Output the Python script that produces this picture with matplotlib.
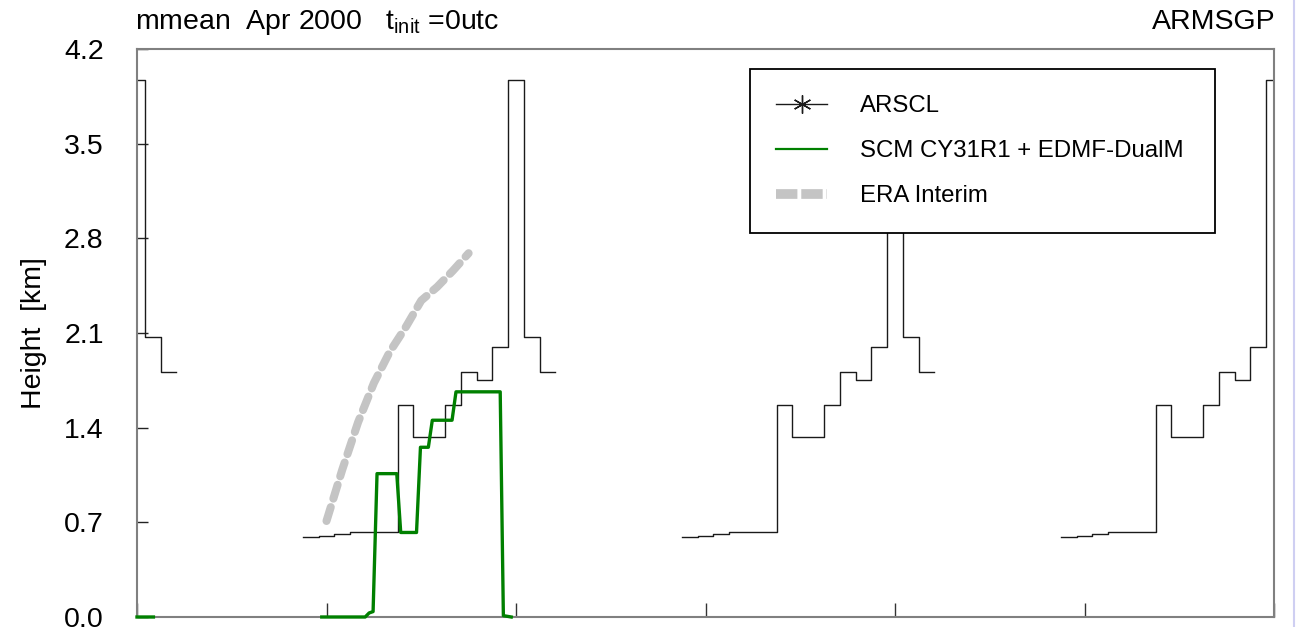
import numpy as np
import matplotlib
matplotlib.use("Agg")
import matplotlib.pyplot as plt
from matplotlib.lines import Line2D

plt.rcParams['font.family'] = ['Liberation Sans', 'DejaVu Sans']
plt.rcParams['mathtext.default'] = 'regular'

# ARSCL diurnal composite, hourly (hour of day -> cloud top height km); hours 3-10 missing
arscl_hours = [0, 1, 2, 11, 12, 13, 14, 15, 16, 17, 18, 19, 20, 21, 22, 23]
arscl_km = [3.97, 2.07, 1.81, 0.59, 0.60, 0.615, 0.625, 0.625, 0.625,
            1.57, 1.33, 1.33, 1.565, 1.815, 1.75, 2.0]
n_days = 3

# SCM CY31R1 + EDMF-DualM (time in hours, NaN = gap)
scm_t = [0.0, 1.04, 6.0, 11.7, 14.45, 14.7, 14.95, 15.2, 16.45, 16.7, 17.7, 17.95,
         18.45, 18.7, 19.95, 20.2, 23.0, 23.2, 23.7]
scm_km = [0.0, 0.0, np.nan, 0.0, 0.0, 0.03, 0.04, 1.06, 1.06, 0.625, 0.625, 1.255,
          1.255, 1.455, 1.455, 1.665, 1.665, 0.01, 0.0]

# ERA Interim
era_t = [12, 13, 14, 15, 16, 17, 18, 19, 20, 21]
era_km = [0.71, 1.09, 1.44, 1.73, 1.96, 2.14, 2.34, 2.44, 2.56, 2.69]

yticks = [0.0, 0.7, 1.4, 2.1, 2.8, 3.5, 4.2]


def arscl_series():
    lookup = dict(zip(arscl_hours, arscl_km))
    t = np.arange(0, n_days * 24 + 1)
    v = np.array([lookup.get(h % 24, np.nan) for h in t])
    return t, v


def main():
    fig = plt.figure(figsize=(12.96, 6.27), dpi=100)
    ax = fig.add_axes([137 / 1296, 10 / 627, 1137 / 1296, 568 / 627])

    t, v = arscl_series()
    ax.plot(t, v, drawstyle='steps-mid', color='#1a1a1a', lw=1.0, label='ARSCL')
    ax.plot(scm_t, scm_km, color='#008000', lw=2.4, zorder=3, clip_on=False,
            label='SCM CY31R1 + EDMF-DualM')
    ax.plot(era_t, era_km, color='#c4c4c4', lw=5.8, dashes=(1.8, 1.1),
            dash_capstyle='round', label='ERA Interim')

    ax.set_xlim(0, 72)
    ax.set_ylim(0, 4.2)
    ax.set_xticks(np.arange(0, 73, 12))
    ax.set_xticklabels([])
    ax.set_yticks(yticks)
    ax.set_yticklabels([f'{y:.1f}' for y in yticks])
    ax.tick_params(axis='y', direction='in', length=8, width=1.0, color='#222222',
                   labelsize=20.5, pad=24)
    ax.tick_params(axis='x', direction='in', length=10, width=1.0, color='#333333')
    for s in ax.spines.values():
        s.set_color('#808080')
        s.set_linewidth(1.5)
    ax.set_ylabel('Height  [km]', fontsize=20.5, labelpad=12)

    handles = [Line2D([], [], color='#1a1a1a', lw=1.0, marker=(6, 2, 0), ms=13, mew=1.0),
               Line2D([], [], color='#008000', lw=1.6),
               Line2D([], [], color='#c4c4c4', lw=7, dashes=(2.2, 0.4))]
    labels = ['ARSCL', 'SCM CY31R1 + EDMF-DualM', 'ERA Interim']
    leg = ax.legend(handles, labels, loc='upper left',
                    bbox_to_anchor=(0.539, 0.965, 0.409, 0.0), mode='expand',
                    fontsize=17.3, frameon=True, fancybox=False, framealpha=1,
                    edgecolor='black', borderpad=1.1, labelspacing=0.95,
                    handlelength=2.1, handletextpad=1.4, borderaxespad=0)
    leg.get_frame().set_linewidth(1.3)
    leg.set_zorder(10)

    fig.text(135 / 1296, 1 - 29 / 627, 'mmean  Apr 2000   t$_{init}$ =0utc',
             fontsize=20.5, va='baseline', ha='left')
    fig.text(1276 / 1296, 1 - 29 / 627, 'ARMSGP', fontsize=20.5,
             va='baseline', ha='right')
    fig.add_artist(Line2D([1293.5 / 1296] * 2, [0, 1], color='#cfcff2', lw=1.5))

    fig.savefig('out.png', dpi=100)


if __name__ == "__main__":
    main()
